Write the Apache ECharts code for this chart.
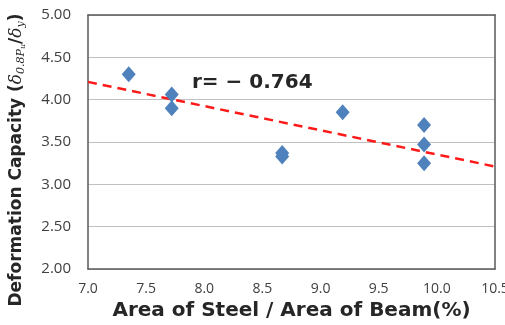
<!DOCTYPE html>
<html>
<head>
<meta charset="utf-8">
<script src="https://cdn.jsdelivr.net/npm/echarts@6/dist/echarts.min.js"></script>
<style>
  html, body { margin: 0; padding: 0; background: #fff; }
  #chart { width: 505px; height: 325px; }
</style>
</head>
<body>
<div id="chart"></div>
<script>
// Steel-to-beam area ratio (%) against deformation capacity
const steelRatio = [7.35, 7.72, 7.72, 8.67, 8.67, 9.19, 9.89, 9.89, 9.89];
const deformCapacity = [4.30, 4.06, 3.90, 3.37, 3.33, 3.85, 3.70, 3.47, 3.25];

// Linear trend line endpoints
const trendX = [7.0, 10.5];
const trendY = [4.21, 3.21];
const correlationText = 'r= \u2212 0.764';

const xTicks = ['7.0', '7.5', '8.0', '8.5', '9.0', '9.5', '10.0', '10.5'];
const yTicks = ['2.00', '2.50', '3.00', '3.50', '4.00', '4.50', '5.00'];

const chart = echarts.init(document.getElementById('chart'), null, { renderer: 'canvas' });

const tickFont = '"Open Sans", "Noto Sans", sans-serif';
const titleFont = '"DejaVu Sans", sans-serif';
const greekFont = '"DejaVu Serif", serif';
const frameColor = '#595959';

// plain axis used only to close the plot frame on the top/right side
const frameAxis = {
  axisLine: { show: true, lineStyle: { color: frameColor, width: 1.5 } },
  axisTick: { show: false }, axisLabel: { show: false }, splitLine: { show: false }
};

chart.setOption({
  animation: false,
  backgroundColor: '#ffffff',
  grid: { left: 88, right: 10, top: 15, bottom: 56, outerBoundsMode: 'none', containLabel: false },
  xAxis: [{
    type: 'value', min: 7.0, max: 10.5, interval: 0.5,
    axisLine: { show: true, onZero: false, lineStyle: { color: frameColor, width: 1.5 } },
    axisTick: { show: false },
    splitLine: { show: false },
    axisLabel: {
      color: '#404040', fontSize: 14, fontFamily: tickFont, margin: 13,
      formatter: (v) => xTicks[Math.round((v - 7.0) / 0.5)]
    },
    name: 'Area of Steel / Area of Beam(%)',
    nameLocation: 'middle', nameGap: 32,
    nameTextStyle: { color: '#262626', fontSize: 20, fontWeight: 'bold', fontFamily: titleFont, verticalAlign: 'top' }
  }, Object.assign({ type: 'value', min: 7.0, max: 10.5, position: 'top' }, frameAxis)],
  yAxis: [{
    type: 'value', min: 2.0, max: 5.0, interval: 0.5,
    axisLine: { show: true, onZero: false, lineStyle: { color: frameColor, width: 1.5 } },
    axisTick: { show: false },
    splitLine: { show: true, lineStyle: { color: '#c0c0c0', width: 1 } },
    axisLabel: {
      color: '#404040', fontSize: 15, fontFamily: tickFont, margin: 17,
      formatter: (v) => yTicks[Math.round((v - 2.0) / 0.5)]
    }
  }, Object.assign({ type: 'value', min: 2.0, max: 5.0, position: 'right' }, frameAxis)],
  series: [
    {
      type: 'line',
      data: trendX.map((x, i) => [x, trendY[i]]),
      symbol: 'none',
      lineStyle: { color: '#ff1a1a', width: 2.5, type: [9, 6] },
      z: 2
    },
    {
      type: 'scatter',
      data: steelRatio.map((x, i) => [x, deformCapacity[i]]),
      symbol: 'diamond',
      symbolSize: [14, 16],
      itemStyle: { color: '#4f81bd', opacity: 1 },
      z: 3
    }
  ],
  graphic: [
    {
      // vertical axis title with subscripted ratio
      type: 'text', x: 17, y: 160, rotation: Math.PI / 2,
      style: {
        text: '{t|Deformation Capacity (}{d|\u03b4}{s|0.8P}{ss|u}{t|/}{d|\u03b4}{s|y}{t|)}',
        align: 'center', verticalAlign: 'middle',
        rich: {
          t: { fontSize: 17, fontWeight: 'bold', fontFamily: titleFont, fill: '#262626' },
          d: { fontSize: 17, fontStyle: 'italic', fontFamily: greekFont, fill: '#262626' },
          s: { fontSize: 11, fontStyle: 'italic', fontFamily: greekFont, fill: '#262626', padding: [8, 0, 0, 0] },
          ss: { fontSize: 8, fontStyle: 'italic', fontFamily: greekFont, fill: '#262626', padding: [12, 0, 0, 0] }
        }
      }
    },
    {
      type: 'text', x: 192, y: 83,
      style: {
        text: correlationText,
        font: 'bold 20px "DejaVu Sans", sans-serif',
        fill: '#262626', verticalAlign: 'middle'
      }
    }
  ]
});
</script>
</body>
</html>
